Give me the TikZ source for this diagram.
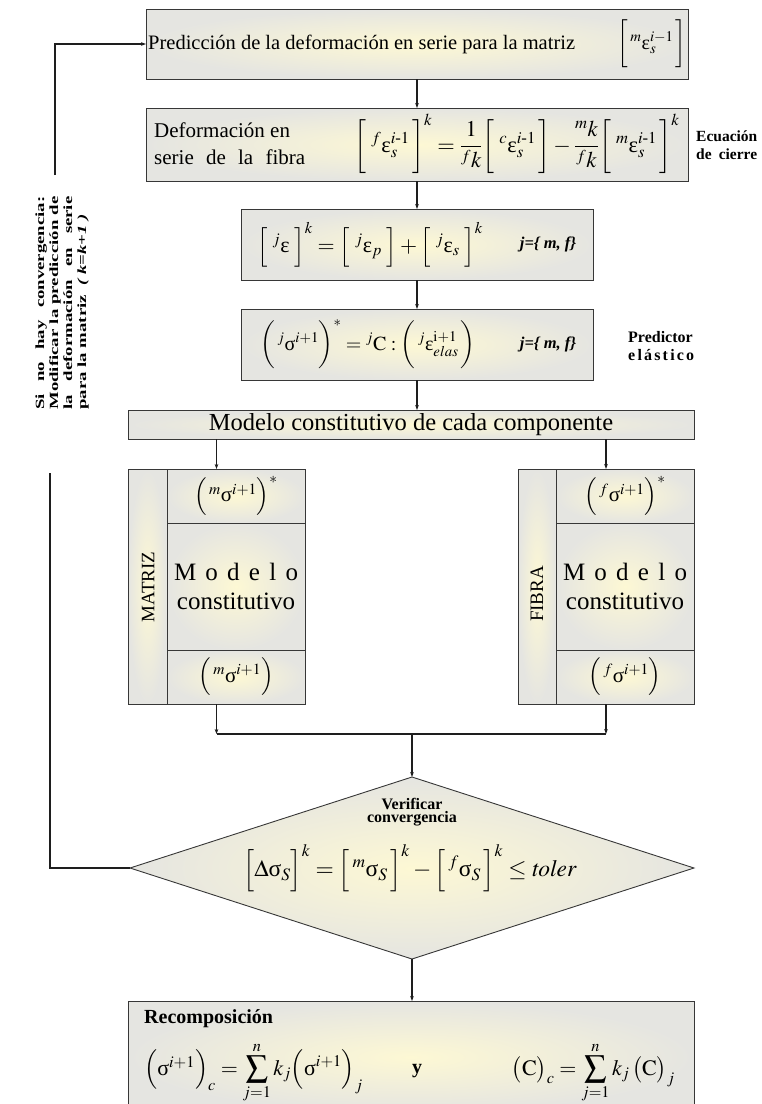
\documentclass[tikz,border=0pt]{standalone}
\usepackage{amsmath}
\usepackage{mathptmx}
\usepackage{fontspec}
\setmainfont{Liberation Serif}
\usetikzlibrary{arrows.meta,shapes.geometric}
\definecolor{boxin}{RGB}{253,248,212}
\definecolor{boxout}{RGB}{229,229,225}
\definecolor{linecol}{RGB}{55,55,55}
\definecolor{arrcol}{RGB}{30,30,30}
\newcommand{\ueps}{\text{ε}}
\newcommand{\usig}{\text{σ}}
\begin{document}
\begin{tikzpicture}[x=1pt,y=-1pt,
  flowbox/.style={draw=linecol, line width=0.9pt, inner color=boxin, outer color=boxout, inner sep=0pt, outer sep=0pt},
  txt/.style={inner sep=0pt},
  conn/.style={draw=arrcol, line width=1.1pt, -{Stealth[length=5pt,width=3.6pt]}},
  plainline/.style={draw=arrcol, line width=1.1pt},
  eqfont/.style={font=\fontsize{20}{24}\selectfont},
  sidelbl/.style={inner sep=0pt, align=left, font=\bfseries\fontsize{15.5}{18}\selectfont}]
\useasboundingbox (0,0) rectangle (762,1104);
\clip (0,0) rectangle (762,1104);

% ---------- boxes ----------
\node[flowbox, minimum width=542, minimum height=70] (b1) at (417,44) {};
\node[flowbox, minimum width=542, minimum height=73] (b2) at (417,144.5) {};
\node[flowbox, minimum width=352, minimum height=71] (b3) at (417,244.5) {};
\node[flowbox, minimum width=352, minimum height=71] (b4) at (417,344.5) {};
\node[flowbox, minimum width=566, minimum height=29, font=\fontsize{24.5}{28}\selectfont] (b5) at (411,424.5) {Modelo constitutivo de cada componente};

% matrix column
\node[flowbox, minimum width=39, minimum height=235] (ms) at (147.5,586.5) {};
\node[txt, rotate=90, font=\fontsize{19}{22}\selectfont] (mstxt) at (148,587) {MATRIZ};
\node[flowbox, minimum width=138, minimum height=54, font=\fontsize{21}{25}\selectfont] (mt) at (236,496) {$\Bigl(\,{}^{m}\usig^{i+1}\Bigr)^{*}$};
\node[flowbox, minimum width=138, minimum height=127, align=center, font=\fontsize{25}{29}\selectfont] (mm) at (236,586.5) {\makebox[124pt]{M\hfill o\hfill d\hfill e\hfill l\hfill o}\\constitutivo};
\node[flowbox, minimum width=138, minimum height=54, font=\fontsize{21}{25}\selectfont] (mb) at (236,677) {$\Bigl(\,{}^{m}\usig^{i+1}\Bigr)$};
\node[minimum width=177, minimum height=235, inner sep=0pt, outer sep=0pt] (mcol) at (216.5,586.5) {};

% fibre column
\node[flowbox, minimum width=38, minimum height=235] (fs) at (537,586.5) {};
\node[txt, rotate=90, font=\fontsize{19}{22}\selectfont] (fstxt) at (537,594) {FIBRA};
\node[flowbox, minimum width=138, minimum height=54, font=\fontsize{21}{25}\selectfont] (ft) at (625,496) {$\Bigl(\,{}^{f}\usig^{i+1}\Bigr)^{*}$};
\node[flowbox, minimum width=138, minimum height=127, align=center, font=\fontsize{25}{29}\selectfont] (fm) at (625,586.5) {\makebox[124pt]{M\hfill o\hfill d\hfill e\hfill l\hfill o}\\constitutivo};
\node[flowbox, minimum width=138, minimum height=54, font=\fontsize{21}{25}\selectfont] (fb) at (625,677) {$\Bigl(\,{}^{f}\usig^{i+1}\Bigr)$};
\node[minimum width=176, minimum height=235, inner sep=0pt, outer sep=0pt] (fcol) at (606,586.5) {};

% decision
\node[diamond, draw=linecol, line width=0.9pt, inner color=boxin, outer color=boxout, minimum width=564, minimum height=182, inner sep=0pt, outer sep=0pt] (dia) at (412,868) {};

% recomposition
\node[flowbox, minimum width=566, minimum height=112] (rec) at (411,1057) {};

% ---------- texts ----------
\node[txt, anchor=west, font=\fontsize{20.5}{24}\selectfont] (t1) at (148,44) {Predicción de la deformación en serie para la matriz};
\node[txt, eqfont] (f1) at (652,44) {$\biggl[\,{}^{m}\ueps_{s}^{i-1}\,\biggr]$};

\node[txt, anchor=west, align=left, font=\fontsize{21}{27}\selectfont] (t2) at (154,143.5) {Deformación en\\\makebox[151pt]{serie\hfill de\hfill la\hfill fibra}};
\node[txt, font=\fontsize{22.5}{27}\selectfont] (f2) at (517,144) {$\biggl[\;{}^{f}\ueps_{s}^{i\text{-}1}\,\biggr]^{k} = \dfrac{1}{{}^{f}k}\biggl[\;{}^{c}\ueps_{s}^{i\text{-}1}\,\biggr] - \dfrac{{}^{m}k}{{}^{f}k}\biggl[\;{}^{m}\ueps_{s}^{i\text{-}1}\,\biggr]^{k}$};
\node[sidelbl, anchor=west] (ec) at (696,145) {Ecuación\\\makebox[61pt]{de\hfill cierre}};

\node[txt, font=\fontsize{22}{26}\selectfont] (f3) at (370,244.5) {$\Bigl[\;{}^{j}\ueps\;\Bigr]^{k} = \Bigl[\;{}^{j}\ueps_{p}\;\Bigr] + \Bigl[\;{}^{j}\ueps_{s}\;\Bigr]^{k}$};
\node[txt, font=\bfseries\itshape\fontsize{16.5}{20}\selectfont] (j3) at (548,244.5) {j=\{ m, f\}};

\node[txt, eqfont] (f4) at (368,344.5) {$\biggl(\,{}^{j}\usig^{i+1}\biggr)^{*} = {}^{j}\mathrm{C}:\biggl(\,{}^{j}\ueps_{elas}^{\mathrm{i+1}}\,\biggr)$};
\node[txt, font=\bfseries\itshape\fontsize{16.5}{20}\selectfont] (j4) at (548,344.5) {j=\{ m, f\}};
\node[sidelbl, anchor=west, font=\bfseries\fontsize{16}{18}\selectfont] (pe) at (628,346) {Predictor\\\makebox[66pt]{e\hfill l\hfill á\hfill s\hfill t\hfill i\hfill c\hfill o}};

\node[txt, align=center, font=\bfseries\fontsize{16}{13.5}\selectfont] (vc) at (412,812) {Verificar\\convergencia};
\node[txt, font=\fontsize{23.5}{28}\selectfont] (df) at (410,868) {$\Bigl[\Delta\usig_{S}\Bigr]^{k} = \Bigl[\,{}^{m}\usig_{S}\,\Bigr]^{k} - \Bigl[\,{}^{f}\usig_{S}\,\Bigr]^{k} \le \mathit{toler}$};

\node[txt, anchor=west, font=\bfseries\fontsize{20}{24}\selectfont] (rt) at (144,1019) {Recomposición};
\node[txt, anchor=west, font=\fontsize{22}{26}\selectfont] (rf1) at (144,1073) {$\Bigl(\usig^{i+1}\Bigr)_{c} = \displaystyle\sum_{j=1}^{n} k_{j}\Bigl(\usig^{i+1}\Bigr)_{j}$};
\node[txt, font=\bfseries\fontsize{20}{24}\selectfont] (ry) at (417,1071) {y};
\node[txt, anchor=east, font=\fontsize{22}{26}\selectfont] (rf2) at (675,1073) {$\bigl(\mathrm{C}\bigr)_{c} = \displaystyle\sum_{j=1}^{n} k_{j}\,\bigl(\mathrm{C}\bigr)_{j}$};

\node[txt, rotate=90] (fbt) at (62,303) {\scalebox{1.5}[1]{\parbox{142pt}{\bfseries\fontsize{12.5}{14}\selectfont Si no hay convergencia:\linebreak Modificar la predicción de\linebreak la deformación en serie\linebreak para la matriz\enspace\textit{( k=k+1 )}}}};

% ---------- connectors ----------
\draw[conn] (b1.south) -- (b2.north);
\draw[conn] (b2.south) -- (b3.north);
\draw[conn] (b3.south) -- (b4.north);
\draw[conn] (b4.south) -- (b4.south |- b5.north);
\draw[conn] (mcol.north |- b5.south) -- (mcol.north);
\draw[conn] (fcol.north |- b5.south) -- (fcol.north);
\coordinate (jn) at (412,734);
\draw[conn] (mcol.south) -- (mcol.south |- jn);
\draw[conn] (fcol.south) -- (fcol.south |- jn);
\draw[plainline] (mcol.south |- jn) -- (fcol.south |- jn);
\draw[conn] (jn) -- (dia.north);
\draw[conn] (dia.south) -- (dia.south |- rec.north);
\coordinate (fbbot) at (50,473);
\draw[plainline] (dia.west) -- (dia.west -| fbbot) -- (fbbot);
\coordinate (fbtop) at (55,175);
\draw[conn] (fbtop) -- (fbtop |- b1.west) -- (b1.west);
\end{tikzpicture}
\end{document}
